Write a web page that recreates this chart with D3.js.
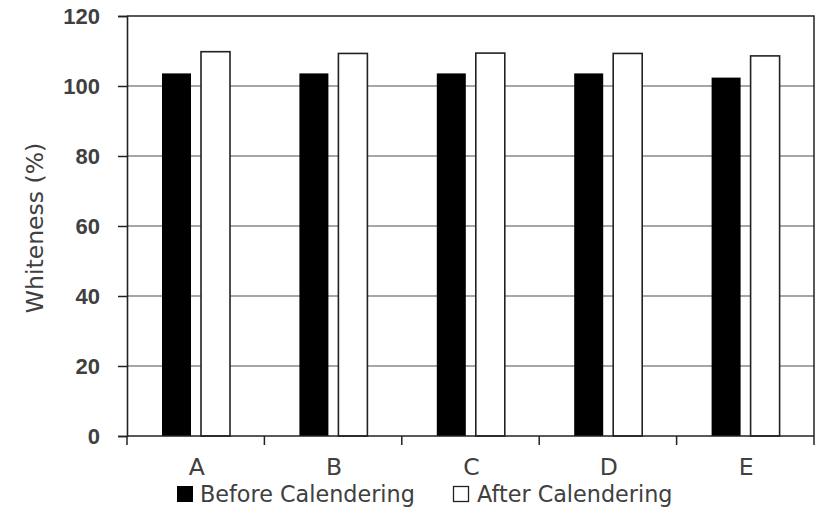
<!DOCTYPE html>
<html><head><meta charset="utf-8">
<script src="https://cdn.jsdelivr.net/npm/d3@7"></script>
<style>body{margin:0;background:#fff}svg text{font-family:"DejaVu Sans",sans-serif;fill:#404040}</style>
</head><body><svg id="c" width="839" height="523"></svg>
<script>
const categories = ["A","B","C","D","E"];
const seriesNames = ["Before Calendering","After Calendering"];
const before = [103.6,103.6,103.6,103.6,102.4];
const after = [109.8,109.3,109.4,109.3,108.6];
const yTicks = [0,20,40,60,80,100,120];

const svg = d3.select("#c");
const L=127,R=814,T=16,B=436;
const x = d3.scaleBand().domain(categories).range([L,R]);
const y = d3.scaleLinear().domain([0,120]).range([B,T]);

// gridlines
svg.append("g").selectAll("line").data(yTicks.filter(d=>d>0&&d<120)).join("line")
  .attr("x1",L).attr("x2",R).attr("y1",d=>y(d)).attr("y2",d=>y(d))
  .attr("stroke","#888").attr("stroke-width",1.5);
// border top/right
svg.append("path").attr("d",`M${L},${y(120)}H${R}V${B}`).attr("fill","none").attr("stroke","#222").attr("stroke-width",1.5);

const bw = 29, off = 35, gap = 9;
const g = svg.append("g");
categories.forEach((c,i)=>{
  g.append("rect").attr("x",x(c)+off).attr("y",y(before[i])).attr("width",bw).attr("height",y(0)-y(before[i])).attr("fill","#000");
  g.append("rect").attr("x",x(c)+off+bw+gap+1).attr("y",y(after[i])).attr("width",bw).attr("height",y(0)-y(after[i])).attr("fill","#fff").attr("stroke","#222").attr("stroke-width",1.6);
});

// y axis
const ya = svg.append("g").attr("transform",`translate(${L},0)`)
  .call(d3.axisLeft(y).tickValues(yTicks).tickSize(9).tickPadding(18));
ya.select(".domain").attr("stroke","#222").attr("stroke-width",1.6);
ya.selectAll(".tick line").attr("stroke","#222").attr("stroke-width",1.5);
ya.selectAll("text").attr("font-size",22).attr("font-weight","bold")
  .style("font-family","'Liberation Sans',Arial,sans-serif").attr("fill","#404040").attr("dy","0.36em");

// x axis
const xa = svg.append("g").attr("transform",`translate(0,${B})`);
xa.append("line").attr("x1",L).attr("x2",R).attr("stroke","#222").attr("stroke-width",1.6);
xa.selectAll("line.tk").data(d3.range(categories.length+1)).join("line").attr("class","tk")
  .attr("x1",i=>L+i*x.step()).attr("x2",i=>L+i*x.step()).attr("y1",0).attr("y2",9).attr("stroke","#222").attr("stroke-width",1.5);
xa.selectAll("text").data(categories).join("text")
  .attr("x",d=>x(d)+x.bandwidth()/2+1).attr("y",39).attr("text-anchor","middle").attr("font-size",23.5).text(d=>d);

// y title
svg.append("text").attr("transform","translate(43,228) rotate(-90)").attr("text-anchor","middle")
  .attr("font-size",23.5).text("Whiteness (%)");

// legend
const lg = svg.append("g");
lg.append("rect").attr("x",177).attr("y",486).attr("width",16).attr("height",16).attr("fill","#000");
lg.append("text").attr("x",200).attr("y",502).attr("font-size",22.3).text(seriesNames[0]);
lg.append("rect").attr("x",453.5).attr("y",486.5).attr("width",15).attr("height",15).attr("fill","#fff").attr("stroke","#222").attr("stroke-width",1.3);
lg.append("text").attr("x",477).attr("y",502).attr("font-size",22.3).text(seriesNames[1]);
</script></body></html>
